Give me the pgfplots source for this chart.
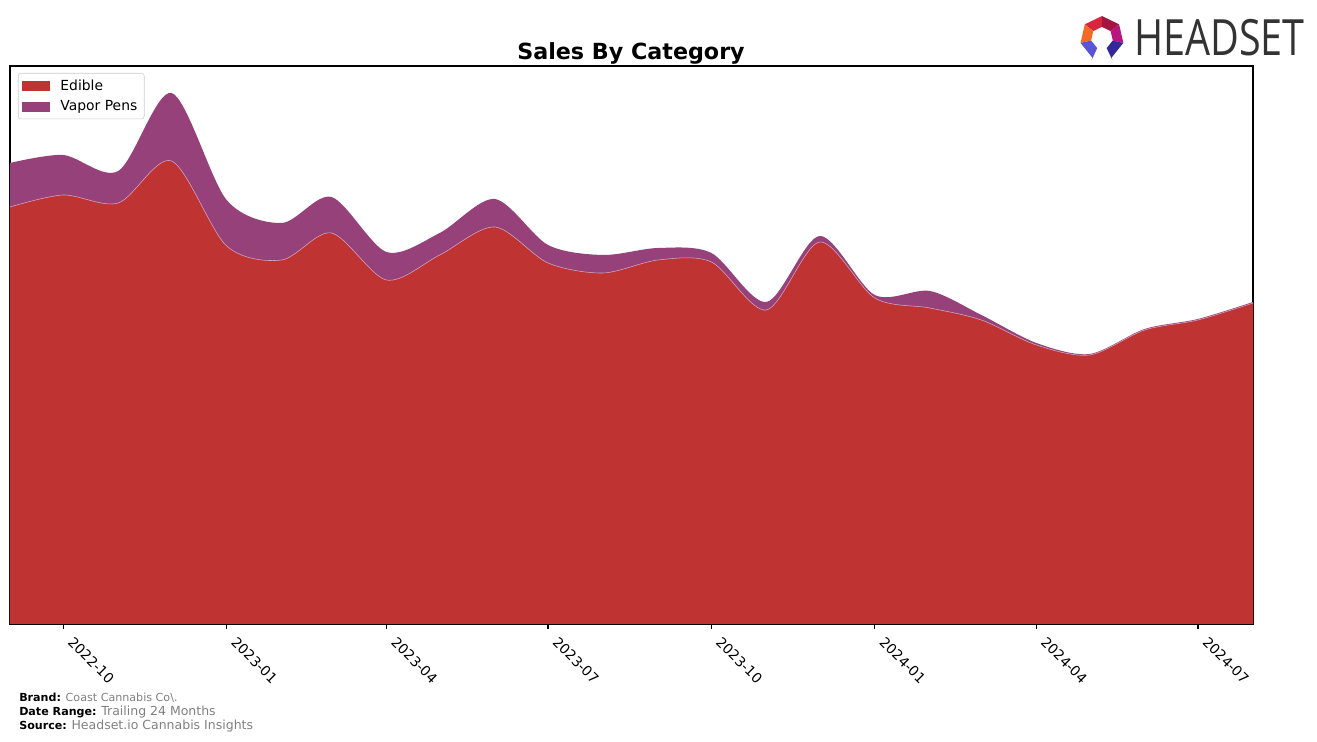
\documentclass[border=0pt]{standalone}
\usepackage{pgfplots}
\pgfplotsset{compat=1.18}
\usepackage{pgfplotstable}
\usepackage{fontspec}
\setmainfont{DejaVu Sans}
\newfontfamily\logofont{Open Sans}

\definecolor{edible}{RGB}{192,51,51}
\definecolor{vapor}{RGB}{150,65,121}
\definecolor{ftgray}{RGB}{128,128,128}
\definecolor{logotext}{RGB}{51,51,51}

% x = days since 2022-10-01 (monthly points), values in chart units
\pgfplotstableread{
x    edible vapor
-30  417  44
0    429  40
31   421  32
61   463  68
92   378  46
123  364  37
151  391  36
182  344  28
212  369  22
243  397  28
273  361  18
304  351  18
335  364  12
365  362  9
396  314  8
426  382  6
457  326  3
488  316  17
517  304  5
548  279  2
578  269  1
609  294  1
639  304  1
670  321  1
}\datatable

\begin{document}
\begin{tikzpicture}[x=1pt,y=1pt]
\path[use as bounding box] (-7.2,-84.96) rectangle (941.04,449.28);
\begin{axis}[
  at={(0,0)}, anchor=south west,
  scale only axis, width=894.96pt, height=401.76pt,
  xmin=-30, xmax=670, ymin=0, ymax=558,
  ytick=\empty,
  xtick={0,92,182,273,365,457,548,639},
  xticklabels={2022-10,2023-01,2023-04,2023-07,2023-10,2024-01,2024-04,2024-07},
  xtick pos=left, tick align=outside, major tick length=3.5pt,
  tick style={black, line width=0.8pt},
  axis line style={black, line width=0.8pt},
  xticklabel style={xshift=8pt, yshift=-3.5pt, rotate=-45, anchor=north west, font=\fontsize{10}{12}\selectfont, inner sep=1pt},
  legend style={at={(0.0064,0.9875)}, anchor=north west, draw=black!20, rounded corners=2pt,
    fill=white, font=\fontsize{10}{12}\selectfont,
    inner xsep=3pt, inner ysep=2.5pt, row sep=2pt},
  legend cell align=left,
]
\addlegendimage{legend image code/.code={\fill[edible, sharp corners] (0pt,-3.4pt) rectangle (19.4pt,3.4pt); \path (25pt,0pt);}}
\addlegendentry{Edible}
\addlegendimage{legend image code/.code={\fill[vapor, sharp corners] (0pt,-3.4pt) rectangle (19.4pt,3.4pt); \path (25pt,0pt);}}
\addlegendentry{Vapor Pens}
\addplot[fill=vapor, draw=none, smooth, forget plot] table[x=x, y expr=\thisrow{edible}+\thisrow{vapor}] {\datatable} \closedcycle;
\addplot[fill=edible, draw=none, smooth, forget plot] table[x=x, y=edible] {\datatable} \closedcycle;
\addplot[draw=white!55!vapor, line width=0.4pt, smooth, forget plot] table[x=x, y=edible] {\datatable};
\end{axis}
% title
\node at (447.12,411.1) {\fontsize{16}{19}\selectfont\bfseries Sales By Category};
% footer
\node[anchor=west, inner sep=0pt] at (6.48,-53.3) {\fontsize{8}{9.6}\selectfont\textbf{Brand:} \textcolor{ftgray}{Coast Cannabis Co\textbackslash.}};
\node[anchor=west, inner sep=0pt] at (6.48,-63.4) {\fontsize{8}{9.6}\selectfont\textbf{Date Range:} \fontsize{9}{10}\selectfont\textcolor{ftgray}{Trailing 24 Months}};
\node[anchor=west, inner sep=0pt] at (6.48,-73.5) {\fontsize{8}{9.6}\selectfont\textbf{Source:} \fontsize{9}{10}\selectfont\textcolor{ftgray}{Headset.io Cannabis Insights}};
% logo
\node[anchor=west, inner sep=0pt] at (809.3,421.9) {\scalebox{0.79}[1]{\fontsize{36}{40}\logofont\color{logotext}HEADSET}};
\begin{scope}[shift={(786.2,421.9)}]
\fill[color={rgb,255:red,163;green,21;blue,63}] (38.6:15.8) -- (90:15.8) -- (90:8) -- (38.6:8) -- cycle;
\fill[color={rgb,255:red,215;green,38;blue,61}] (90:15.8) -- (141.4:15.8) -- (141.4:8) -- (90:8) -- cycle;
\fill[color={rgb,255:red,242;green,107;blue,37}] (141.4:15.8) -- (192.9:15.8) -- (192.9:8) -- (141.4:8) -- cycle;
\fill[color={rgb,255:red,184;green,21;blue,126}] (347.1:15.8) -- (38.6:15.8) -- (38.6:8) -- (347.1:8) -- cycle;
\fill[color={rgb,255:red,90;green,85;blue,214}] (192.9:15.8) -- (244.3:15.8) -- (244.3:8) -- (192.9:8) -- cycle;
\fill[color={rgb,255:red,51;green,39;blue,154}] (295.7:15.8) -- (347.1:15.8) -- (347.1:8) -- (295.7:8) -- cycle;
\fill[color={rgb,255:red,60;green,50;blue,170}] (244.3:15.8) -- (244.3:8) -- (-7.5,-16) -- cycle;
\fill[color={rgb,255:red,40;green,30;blue,130}] (295.7:15.8) -- (295.7:8) -- (7.5,-16) -- cycle;
\end{scope}
\end{tikzpicture}
\end{document}
